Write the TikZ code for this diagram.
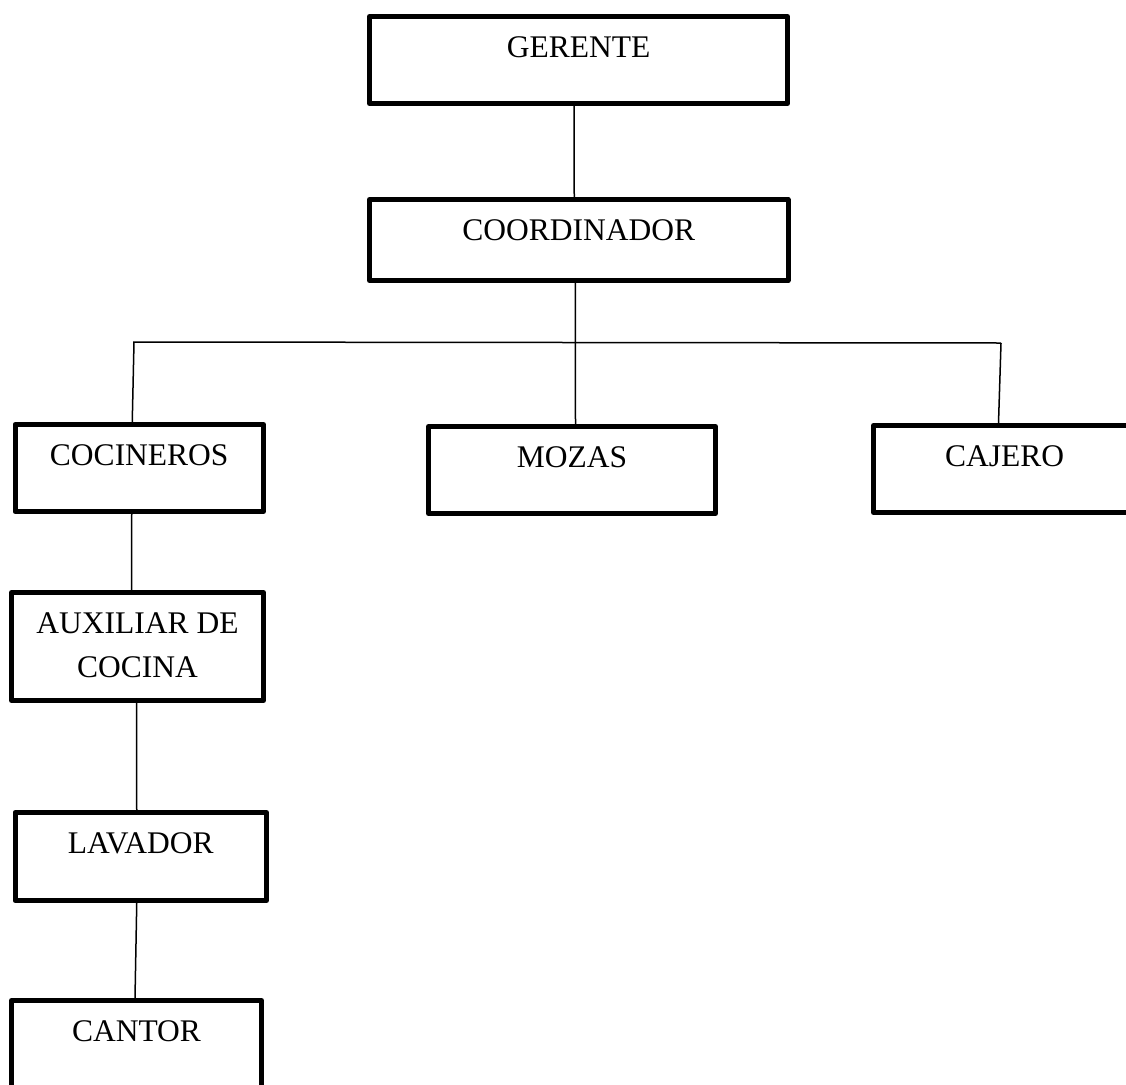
\documentclass[tikz,border=0pt]{standalone}
\usepackage{fontspec}
\setmainfont{Liberation Serif}

\tikzset{
  cargo/.style={draw, line width=5pt, line join=round, inner sep=0pt, anchor=north west,
    align=center, font=\fontsize{31.5}{44}\selectfont, text height=41pt, text depth=46pt},
  enlace/.style={line width=1.5pt}
}

\begin{document}
\begin{tikzpicture}[x=1pt, y=-1pt]
\useasboundingbox (0,0) rectangle (1126,1084);
\node[cargo, minimum width=418pt] (ger) at (367,14) {GERENTE};
\node[cargo, minimum width=418.5pt, text depth=40pt] (coo) at (367,197) {COORDINADOR};
\node[cargo, minimum width=248.5pt] (coc) at (12.5,422) {COCINEROS};
\node[cargo, minimum width=287pt] (moz) at (426,424) {MOZAS};
\node[cargo, minimum width=262pt] (caj) at (871,423) {CAJERO};
\node[cargo, minimum width=252pt, text height=85pt, text depth=23pt] (aux) at (9,590) {AUXILIAR DE\\COCINA};
\node[cargo, minimum width=251.5pt, text depth=47pt] (lav) at (12.5,810) {LAVADOR};
\node[cargo, minimum width=250pt] (can) at (9,998) {CANTOR};
\coordinate (izq) at (133,342);
\coordinate (der) at (1001,343);
\draw[enlace] ([xshift=-4.5pt]ger.south) -- ([xshift=-4.5pt]coo.north);
\draw[enlace] (izq) -- (der);
\draw[enlace] ([xshift=-3.5pt]coo.south) -- ([xshift=3.5pt]moz.north);
\draw[enlace] ([xshift=1pt]izq) -- ([xshift=-7pt]coc.north);
\draw[enlace] (der) -- ([xshift=-6pt]caj.north);
\draw[enlace] ([xshift=-7.5pt]coc.south) -- ([xshift=-6pt]aux.north);
\draw[enlace] ([xshift=-1pt]aux.south) -- ([xshift=-4pt]lav.north);
\draw[enlace] ([xshift=-4pt]lav.south) -- ([xshift=-1.5pt]can.north);
\end{tikzpicture}
\end{document}
